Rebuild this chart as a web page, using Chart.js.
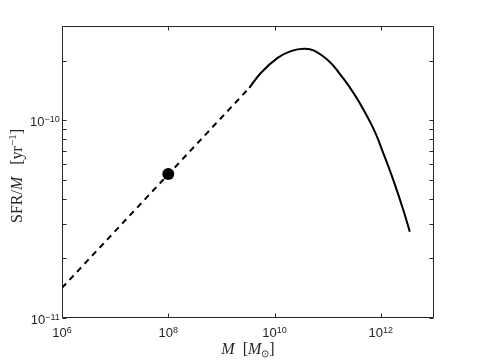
<!DOCTYPE html>
<html>
<head>
<meta charset="utf-8">
<script src="https://cdn.jsdelivr.net/npm/chart.js@4/dist/chart.umd.min.js"></script>
<style>
html,body{margin:0;padding:0;background:#fff;}
#wrap{width:480px;height:360px;position:relative;}
</style>
</head>
<body>
<div id="wrap"><canvas id="c" width="480" height="360"></canvas></div>
<script>
// ---- data ----
const dashedMass = [1e6, 3.35e9];
const dashedSSFR = [1.42e-11, 1.46e-10];

const curveMass = [3.35e9, 5.56e9, 1.14e10, 2.03e10, 3.6e10, 5.55e10, 1.06e11, 1.63e11, 2.51e11, 3.87e11, 7.39e11, 1.14e12, 1.75e12, 2.7e12, 3.5e12];
const curveSSFR = [1.46e-10, 1.74e-10, 2.07e-10, 2.24e-10, 2.30e-10, 2.25e-10, 1.99e-10, 1.74e-10, 1.49e-10, 1.24e-10, 8.97e-11, 6.70e-11, 4.91e-11, 3.46e-11, 2.73e-11];

const pointMass = [1e8];
const pointSSFR = [5.35e-11];

// tick positions and labels (base / exponent)
const xTickValues = [1e6, 1e8, 1e10, 1e12];
const xTickExponents = ['6', '8', '10', '12'];
const yTickValues = [1e-11, 2e-11, 3e-11, 4e-11, 5e-11, 6e-11, 7e-11, 8e-11, 9e-11, 1e-10, 2e-10];
const yTickExponents = ['-11', '', '', '', '', '', '', '', '', '-10', ''];

// axis titles, as runs of text: [text, italic, size, raise]
const xTitleRuns = [['M', true, 16, 0], ['  [', false, 16, 0], ['M', true, 16, 0], ['\u2299', false, 10, -3], [']', false, 16, 0]];
const yTitleRuns = [['SFR/', false, 16, 0], ['M', true, 16, 0], ['   [yr', false, 16, 0], ['\u22121', false, 11, 6], [']', false, 16, 0]];

// ---- helpers ----
const zip = (xs, ys) => xs.map((x, i) => ({x: x, y: ys[i]}));
const AX = '#262626';
const SANS = '"Liberation Sans", Arial, sans-serif';
const SERIF = '"Liberation Serif", "Times New Roman", serif';

function runsWidth(ctx, runs) {
  let w = 0;
  runs.forEach(r => { ctx.font = (r[1] ? 'italic ' : '') + r[2] + 'px ' + SERIF; w += ctx.measureText(r[0]).width; });
  return w;
}
function drawRuns(ctx, runs, x, y) {
  runs.forEach(r => {
    ctx.font = (r[1] ? 'italic ' : '') + r[2] + 'px ' + SERIF;
    ctx.fillText(r[0], x, y - r[3]);
    x += ctx.measureText(r[0]).width;
  });
}
function powerLabel(ctx, exp, x, y, align) {
  ctx.font = '13px ' + SANS;
  const wb = ctx.measureText('10').width;
  ctx.font = '9px ' + SANS;
  const we = ctx.measureText(exp).width;
  const total = wb + we;
  let x0 = align === 'center' ? x - total / 2 : x - total;
  ctx.font = '13px ' + SANS;
  ctx.fillText('10', x0, y);
  ctx.font = '9px ' + SANS;
  ctx.fillText(exp.replace('-', '\u2212'), x0 + wb, y - 4.5);
}

const boxTicks = {
  id: 'boxTicks',
  afterDatasetsDraw(chart) {
    const ctx = chart.ctx, a = chart.chartArea;
    const xs = chart.scales.x, ys = chart.scales.y;
    const L = Math.round(a.left) + 0.5, R = Math.round(a.right) - 0.5;
    const T = Math.round(a.top) + 0.5, B = Math.round(a.bottom) - 0.5;
    ctx.save();
    ctx.strokeStyle = AX;
    ctx.lineWidth = 1;
    ctx.beginPath();
    ctx.rect(L, T, R - L, B - T);
    const tl = 4;
    xTickValues.forEach(v => {
      const p = Math.round(xs.getPixelForValue(v)) + 0.5;
      ctx.moveTo(p, B); ctx.lineTo(p, B - tl);
      ctx.moveTo(p, T); ctx.lineTo(p, T + tl);
    });
    yTickValues.forEach(v => {
      const p = Math.round(ys.getPixelForValue(v)) + 0.5;
      ctx.moveTo(L, p); ctx.lineTo(L + tl, p);
      ctx.moveTo(R, p); ctx.lineTo(R - tl, p);
    });
    ctx.stroke();

    ctx.fillStyle = AX;
    ctx.textBaseline = 'alphabetic';
    ctx.textAlign = 'left';
    xTickValues.forEach((v, i) => {
      powerLabel(ctx, xTickExponents[i], xs.getPixelForValue(v), a.bottom + 19, 'center');
    });
    yTickValues.forEach((v, i) => {
      if (yTickExponents[i]) powerLabel(ctx, yTickExponents[i], a.left - 4.5, ys.getPixelForValue(v) + 6, 'right');
    });

    const cx = (a.left + a.right) / 2;
    const wx = runsWidth(ctx, xTitleRuns);
    drawRuns(ctx, xTitleRuns, cx - wx / 2, 353.5);

    const cy = (a.top + a.bottom) / 2 + 4;
    const wy = runsWidth(ctx, yTitleRuns);
    ctx.save();
    ctx.translate(21.5, cy);
    ctx.rotate(-Math.PI / 2);
    drawRuns(ctx, yTitleRuns, -wy / 2, 0);
    ctx.restore();
    ctx.restore();
  }
};

new Chart(document.getElementById('c'), {
  type: 'scatter',
  data: {
    datasets: [
      {
        data: zip(dashedMass, dashedSSFR),
        showLine: true, borderColor: '#000', borderWidth: 2,
        borderDash: [6, 5], pointRadius: 0
      },
      {
        data: zip(curveMass, curveSSFR),
        showLine: true, borderColor: '#000', borderWidth: 2,
        tension: 0.4, pointRadius: 0
      },
      {
        data: zip(pointMass, pointSSFR),
        showLine: false, pointRadius: 6, pointBackgroundColor: '#000',
        pointBorderColor: '#000', pointBorderWidth: 0
      }
    ]
  },
  options: {
    responsive: false,
    animation: false,
    events: [],
    layout: {padding: {left: 0, top: 26, right: 46, bottom: 0}},
    plugins: {legend: {display: false}, tooltip: {enabled: false}},
    scales: {
      x: {
        type: 'logarithmic', min: 1e6, max: 1e13,
        afterBuildTicks: s => { s.ticks = xTickValues.map(v => ({value: v})); },
        afterFit: s => { s.height = 42; },
        grid: {display: false, drawTicks: false, tickLength: 0},
        border: {display: false},
        ticks: {display: false},
        title: {display: false}
      },
      y: {
        type: 'logarithmic', min: 1e-11, max: 3e-10,
        afterBuildTicks: s => { s.ticks = yTickValues.map(v => ({value: v})); },
        afterFit: s => { s.width = 62; },
        grid: {display: false, drawTicks: false, tickLength: 0},
        border: {display: false},
        ticks: {display: false},
        title: {display: false}
      }
    }
  },
  plugins: [boxTicks]
});
</script>
</body>
</html>
